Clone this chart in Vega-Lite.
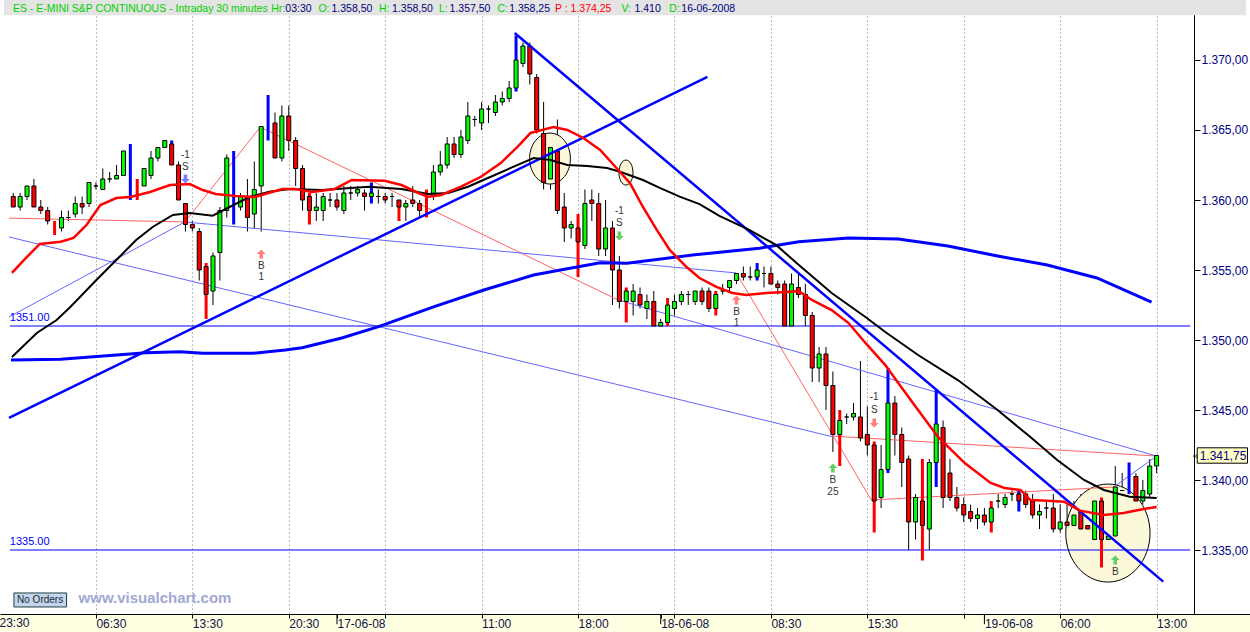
{
"$schema": "https://vega.github.io/schema/vega-lite/v6.json",
"width": 1250, "height": 614,
"autosize": {"type": "none"},
"padding": {"left": 0, "top": 0, "right": 0, "bottom": 18},
"background": "#FFFFE1",
"config": {
 "view": {"fill": "#FFFFFF", "stroke": null},
 "locale": {"number": {"decimal": ",", "thousands": ".", "grouping": [3], "currency": ["", ""]}},
 "bar": {"continuousBandSize": 4},
 "text": {"font": "Liberation Sans"}
},
"resolve": {"scale": {"color": "independent"}},
"datasets": {
 "candles": [
{"bar":2,"open":1360.25,"high":1360.5,"low":1359.5,"close":1359.5,"paint":""},
{"bar":3,"open":1359.5,"high":1360.5,"low":1359.25,"close":1360.25,"paint":""},
{"bar":4,"open":1360.25,"high":1361,"low":1360,"close":1361,"paint":""},
{"bar":5,"open":1361,"high":1361.5,"low":1359.5,"close":1359.5,"paint":""},
{"bar":6,"open":1359.5,"high":1360,"low":1359,"close":1359.25,"paint":""},
{"bar":7,"open":1359.25,"high":1359.5,"low":1358.25,"close":1358.5,"paint":""},
{"bar":8,"open":1358.25,"high":1358.5,"low":1357.5,"close":1358.25,"paint":"r"},
{"bar":9,"open":1358,"high":1359.25,"low":1357.75,"close":1358.75,"paint":""},
{"bar":10,"open":1358.75,"high":1359.25,"low":1358.5,"close":1358.75,"paint":""},
{"bar":11,"open":1359,"high":1360.25,"low":1358.75,"close":1359.75,"paint":""},
{"bar":12,"open":1359.75,"high":1360.25,"low":1359,"close":1359.5,"paint":""},
{"bar":13,"open":1359.75,"high":1361.25,"low":1359.5,"close":1361.25,"paint":""},
{"bar":14,"open":1361,"high":1361.25,"low":1360.75,"close":1361,"paint":""},
{"bar":15,"open":1360.75,"high":1362.25,"low":1360.75,"close":1361.5,"paint":""},
{"bar":16,"open":1361.5,"high":1362,"low":1361.25,"close":1361.5,"paint":""},
{"bar":17,"open":1361.5,"high":1362.5,"low":1361.5,"close":1361.75,"paint":""},
{"bar":18,"open":1361.75,"high":1363.5,"low":1361.75,"close":1363.5,"paint":""},
{"bar":19,"open":1363.75,"high":1364,"low":1360,"close":1363.75,"paint":"b"},
{"bar":20,"open":1361.25,"high":1361.5,"low":1360,"close":1361.25,"paint":"r"},
{"bar":21,"open":1361,"high":1362.25,"low":1361,"close":1362.25,"paint":""},
{"bar":22,"open":1361.75,"high":1363.5,"low":1361.5,"close":1363,"paint":""},
{"bar":23,"open":1363,"high":1363.75,"low":1362.75,"close":1363.75,"paint":""},
{"bar":24,"open":1363.75,"high":1364.25,"low":1363.75,"close":1364.25,"paint":""},
{"bar":25,"open":1364,"high":1364.25,"low":1362.5,"close":1362.5,"paint":"b"},
{"bar":26,"open":1362.5,"high":1362.75,"low":1360,"close":1360,"paint":""},
{"bar":27,"open":1359.75,"high":1359.75,"low":1357.75,"close":1358.25,"paint":""},
{"bar":28,"open":1358.25,"high":1358.5,"low":1357.75,"close":1358,"paint":""},
{"bar":29,"open":1357.75,"high":1358,"low":1354.25,"close":1355,"paint":""},
{"bar":30,"open":1355.25,"high":1355.5,"low":1351.5,"close":1353.25,"paint":"r"},
{"bar":31,"open":1353.5,"high":1356.25,"low":1352.5,"close":1356,"paint":""},
{"bar":32,"open":1356.25,"high":1359.5,"low":1354.25,"close":1359.25,"paint":""},
{"bar":33,"open":1359.25,"high":1363.25,"low":1358.75,"close":1363,"paint":""},
{"bar":34,"open":1360,"high":1363.5,"low":1358.25,"close":1360,"paint":"b"},
{"bar":35,"open":1359.5,"high":1360.5,"low":1359.25,"close":1360.25,"paint":""},
{"bar":36,"open":1360.25,"high":1361.5,"low":1357.75,"close":1358.75,"paint":""},
{"bar":37,"open":1359,"high":1362.75,"low":1358,"close":1360.75,"paint":""},
{"bar":38,"open":1361,"high":1365.25,"low":1357.75,"close":1365.25,"paint":""},
{"bar":39,"open":1365,"high":1367.5,"low":1364.25,"close":1365,"paint":"b"},
{"bar":40,"open":1365.5,"high":1366.25,"low":1363,"close":1363,"paint":""},
{"bar":41,"open":1363,"high":1366.75,"low":1362.75,"close":1366,"paint":""},
{"bar":42,"open":1366,"high":1366.75,"low":1363.5,"close":1364.25,"paint":""},
{"bar":43,"open":1364.25,"high":1364.5,"low":1361,"close":1362.25,"paint":""},
{"bar":44,"open":1362.25,"high":1362.5,"low":1359.25,"close":1360,"paint":""},
{"bar":45,"open":1360.25,"high":1360.5,"low":1358.25,"close":1359.25,"paint":"r"},
{"bar":46,"open":1359.25,"high":1360.5,"low":1358.5,"close":1359.5,"paint":""},
{"bar":47,"open":1359.25,"high":1360.5,"low":1358.5,"close":1360.25,"paint":""},
{"bar":48,"open":1360,"high":1360.5,"low":1359.5,"close":1360,"paint":""},
{"bar":49,"open":1360,"high":1360.5,"low":1359.25,"close":1359.5,"paint":""},
{"bar":50,"open":1359.25,"high":1361,"low":1359,"close":1360.5,"paint":""},
{"bar":51,"open":1360.5,"high":1361,"low":1360,"close":1360.5,"paint":""},
{"bar":52,"open":1360.5,"high":1361,"low":1360.25,"close":1360.75,"paint":""},
{"bar":53,"open":1360.5,"high":1360.75,"low":1359.25,"close":1360.25,"paint":""},
{"bar":54,"open":1360.25,"high":1361.25,"low":1359.75,"close":1360.5,"paint":"b"},
{"bar":55,"open":1360.25,"high":1360.75,"low":1359.75,"close":1360.25,"paint":""},
{"bar":56,"open":1360.25,"high":1360.5,"low":1359.75,"close":1360,"paint":""},
{"bar":57,"open":1360.25,"high":1360.5,"low":1359.5,"close":1360.25,"paint":""},
{"bar":58,"open":1360,"high":1360,"low":1358.5,"close":1359.5,"paint":"r"},
{"bar":59,"open":1359.5,"high":1360,"low":1358.5,"close":1359.75,"paint":""},
{"bar":60,"open":1360,"high":1361,"low":1359.5,"close":1359.75,"paint":""},
{"bar":61,"open":1359.75,"high":1360,"low":1358.75,"close":1359.25,"paint":""},
{"bar":62,"open":1359.5,"high":1360.75,"low":1358.75,"close":1359.5,"paint":"r"},
{"bar":63,"open":1360.25,"high":1362.5,"low":1360,"close":1362,"paint":""},
{"bar":64,"open":1362,"high":1363.5,"low":1361.75,"close":1362.5,"paint":""},
{"bar":65,"open":1362.5,"high":1364.5,"low":1362.25,"close":1364,"paint":""},
{"bar":66,"open":1364,"high":1364.5,"low":1363,"close":1363.25,"paint":""},
{"bar":67,"open":1363.25,"high":1365,"low":1363,"close":1364.5,"paint":""},
{"bar":68,"open":1364.25,"high":1367,"low":1364,"close":1366,"paint":""},
{"bar":69,"open":1365.75,"high":1366,"low":1365.25,"close":1365.75,"paint":""},
{"bar":70,"open":1365.5,"high":1367,"low":1365,"close":1366.5,"paint":""},
{"bar":71,"open":1366.5,"high":1366.75,"low":1365.5,"close":1366.5,"paint":""},
{"bar":72,"open":1366.25,"high":1367.5,"low":1366,"close":1367,"paint":""},
{"bar":73,"open":1367,"high":1367.75,"low":1366.75,"close":1367.25,"paint":""},
{"bar":74,"open":1367.25,"high":1368.5,"low":1367,"close":1368,"paint":""},
{"bar":75,"open":1368,"high":1371.75,"low":1367.75,"close":1370,"paint":"b"},
{"bar":76,"open":1369.75,"high":1371.25,"low":1369.5,"close":1371,"paint":""},
{"bar":77,"open":1371,"high":1371.25,"low":1368.25,"close":1369,"paint":""},
{"bar":78,"open":1368.75,"high":1369,"low":1364.75,"close":1365,"paint":""},
{"bar":79,"open":1364.75,"high":1367,"low":1360.75,"close":1361.25,"paint":""},
{"bar":80,"open":1361.5,"high":1364.5,"low":1360.75,"close":1363.75,"paint":""},
{"bar":81,"open":1363.5,"high":1365.75,"low":1359,"close":1359.25,"paint":""},
{"bar":82,"open":1359.5,"high":1360.5,"low":1357,"close":1358,"paint":""},
{"bar":83,"open":1358,"high":1358.5,"low":1357.25,"close":1358.25,"paint":""},
{"bar":84,"open":1358,"high":1359,"low":1354.5,"close":1357,"paint":"r"},
{"bar":85,"open":1356.75,"high":1360.75,"low":1356.5,"close":1359.75,"paint":""},
{"bar":86,"open":1360,"high":1360.75,"low":1358.5,"close":1359.75,"paint":""},
{"bar":87,"open":1359.75,"high":1360.5,"low":1356,"close":1356.5,"paint":""},
{"bar":88,"open":1356.5,"high":1360,"low":1356,"close":1358,"paint":""},
{"bar":89,"open":1358,"high":1358.5,"low":1352.5,"close":1355,"paint":""},
{"bar":90,"open":1355,"high":1356,"low":1352.25,"close":1352.75,"paint":""},
{"bar":91,"open":1352.75,"high":1353.75,"low":1351.25,"close":1353.5,"paint":"r"},
{"bar":92,"open":1352.75,"high":1354,"low":1351.75,"close":1353.5,"paint":""},
{"bar":93,"open":1353.25,"high":1353.75,"low":1352.25,"close":1352.5,"paint":""},
{"bar":94,"open":1352.25,"high":1353.25,"low":1351.5,"close":1352.75,"paint":""},
{"bar":95,"open":1352.75,"high":1353.5,"low":1351,"close":1351,"paint":""},
{"bar":96,"open":1351,"high":1351.5,"low":1351,"close":1351.25,"paint":""},
{"bar":97,"open":1351.25,"high":1353,"low":1351,"close":1352.5,"paint":"r"},
{"bar":98,"open":1352.25,"high":1353.25,"low":1351.75,"close":1352.75,"paint":""},
{"bar":99,"open":1352.75,"high":1353.5,"low":1352.5,"close":1353.25,"paint":""},
{"bar":100,"open":1353.25,"high":1353.5,"low":1352.5,"close":1353.25,"paint":""},
{"bar":101,"open":1352.75,"high":1353.5,"low":1352.5,"close":1353.5,"paint":""},
{"bar":102,"open":1353.5,"high":1353.75,"low":1352.5,"close":1352.75,"paint":""},
{"bar":103,"open":1353.5,"high":1353.75,"low":1352,"close":1352.25,"paint":""},
{"bar":104,"open":1352.25,"high":1353.5,"low":1351.75,"close":1353.25,"paint":"r"},
{"bar":105,"open":1353.5,"high":1354,"low":1353.25,"close":1353.5,"paint":""},
{"bar":106,"open":1353.75,"high":1354.25,"low":1353.5,"close":1354.25,"paint":""},
{"bar":107,"open":1354.25,"high":1354.75,"low":1354,"close":1354.75,"paint":""},
{"bar":108,"open":1354.75,"high":1355.25,"low":1354.25,"close":1354.5,"paint":""},
{"bar":109,"open":1354.5,"high":1355.25,"low":1354.25,"close":1354.5,"paint":""},
{"bar":110,"open":1354.5,"high":1355.5,"low":1354.25,"close":1355,"paint":"b"},
{"bar":111,"open":1354.75,"high":1355.25,"low":1353.75,"close":1354.75,"paint":""},
{"bar":112,"open":1354.75,"high":1355.25,"low":1354,"close":1354,"paint":""},
{"bar":113,"open":1354,"high":1354.25,"low":1353.25,"close":1353.75,"paint":""},
{"bar":114,"open":1354,"high":1354.25,"low":1351,"close":1351,"paint":""},
{"bar":115,"open":1351,"high":1354.75,"low":1351,"close":1354,"paint":""},
{"bar":116,"open":1353.75,"high":1354.75,"low":1353,"close":1353.25,"paint":""},
{"bar":117,"open":1353.25,"high":1354,"low":1351,"close":1351.75,"paint":""},
{"bar":118,"open":1351.75,"high":1352,"low":1347,"close":1348,"paint":""},
{"bar":119,"open":1348,"high":1349.5,"low":1347,"close":1349,"paint":""},
{"bar":120,"open":1349,"high":1349.5,"low":1345,"close":1346.75,"paint":""},
{"bar":121,"open":1346.75,"high":1347.75,"low":1342,"close":1343.25,"paint":""},
{"bar":122,"open":1343.25,"high":1345,"low":1341,"close":1344.25,"paint":"r"},
{"bar":123,"open":1344.5,"high":1344.75,"low":1344,"close":1344.5,"paint":""},
{"bar":124,"open":1344.5,"high":1345.5,"low":1344.25,"close":1344.75,"paint":""},
{"bar":125,"open":1344.5,"high":1348.5,"low":1342.75,"close":1343,"paint":""},
{"bar":126,"open":1343.25,"high":1345.25,"low":1341.75,"close":1342.5,"paint":""},
{"bar":127,"open":1342.5,"high":1342.75,"low":1336.25,"close":1338.5,"paint":"r"},
{"bar":128,"open":1338.75,"high":1342.5,"low":1338,"close":1340.75,"paint":""},
{"bar":129,"open":1340.75,"high":1348,"low":1340.5,"close":1345.5,"paint":"b"},
{"bar":130,"open":1345.5,"high":1346,"low":1341.75,"close":1343.25,"paint":""},
{"bar":131,"open":1343.25,"high":1343.75,"low":1339.5,"close":1341.25,"paint":""},
{"bar":132,"open":1341.5,"high":1341.75,"low":1335,"close":1337,"paint":""},
{"bar":133,"open":1337,"high":1339,"low":1335.75,"close":1338.75,"paint":""},
{"bar":134,"open":1338.5,"high":1341.5,"low":1334.25,"close":1336.75,"paint":"r"},
{"bar":135,"open":1336.5,"high":1341.5,"low":1335,"close":1341.25,"paint":""},
{"bar":136,"open":1341.25,"high":1346.5,"low":1339.5,"close":1344,"paint":"b"},
{"bar":137,"open":1343.75,"high":1344.25,"low":1338,"close":1338.75,"paint":""},
{"bar":138,"open":1340.5,"high":1341.5,"low":1338.5,"close":1338.75,"paint":""},
{"bar":139,"open":1338.75,"high":1339.5,"low":1337.75,"close":1338,"paint":""},
{"bar":140,"open":1338.25,"high":1338.75,"low":1337,"close":1337.5,"paint":""},
{"bar":141,"open":1337.75,"high":1338.25,"low":1337,"close":1337.25,"paint":""},
{"bar":142,"open":1337.25,"high":1338,"low":1336.5,"close":1337.5,"paint":""},
{"bar":143,"open":1337.5,"high":1338,"low":1336.75,"close":1337,"paint":""},
{"bar":144,"open":1337,"high":1338.5,"low":1336.25,"close":1338,"paint":"r"},
{"bar":145,"open":1338.5,"high":1339,"low":1338,"close":1338.5,"paint":""},
{"bar":146,"open":1338.25,"high":1339,"low":1338,"close":1338.75,"paint":""},
{"bar":147,"open":1339,"high":1339.25,"low":1338.5,"close":1339,"paint":""},
{"bar":148,"open":1339,"high":1339.25,"low":1337.75,"close":1338.5,"paint":"b"},
{"bar":149,"open":1339,"high":1339.25,"low":1338,"close":1338.25,"paint":""},
{"bar":150,"open":1338.5,"high":1339,"low":1337.25,"close":1337.5,"paint":""},
{"bar":151,"open":1337.5,"high":1338.25,"low":1336.5,"close":1337.75,"paint":""},
{"bar":152,"open":1338,"high":1338.5,"low":1337.25,"close":1338,"paint":""},
{"bar":153,"open":1338,"high":1339,"low":1336.25,"close":1336.5,"paint":""},
{"bar":154,"open":1336.5,"high":1338.25,"low":1336.25,"close":1337,"paint":""},
{"bar":155,"open":1337,"high":1338.25,"low":1336,"close":1336.75,"paint":""},
{"bar":156,"open":1336.75,"high":1338.5,"low":1336,"close":1337.5,"paint":""},
{"bar":157,"open":1337.75,"high":1339,"low":1335,"close":1336.5,"paint":""},
{"bar":158,"open":1336.75,"high":1338,"low":1335,"close":1336.5,"paint":""},
{"bar":159,"open":1335.75,"high":1339.5,"low":1335,"close":1338.5,"paint":""},
{"bar":160,"open":1338.5,"high":1338.75,"low":1333.75,"close":1335.75,"paint":"r"},
{"bar":161,"open":1335.75,"high":1336.5,"low":1335.25,"close":1336,"paint":""},
{"bar":162,"open":1336,"high":1341,"low":1335.75,"close":1339.5,"paint":""},
{"bar":163,"open":1339.25,"high":1340.5,"low":1338.75,"close":1339.25,"paint":""},
{"bar":164,"open":1340,"high":1341.25,"low":1339,"close":1340,"paint":"b"},
{"bar":165,"open":1340.25,"high":1340.5,"low":1338.25,"close":1338.5,"paint":""},
{"bar":166,"open":1338.5,"high":1340,"low":1338.25,"close":1339.25,"paint":""},
{"bar":167,"open":1339,"high":1341.5,"low":1338.75,"close":1341,"paint":""},
{"bar":168,"open":1341,"high":1341.75,"low":1340.5,"close":1341.75,"paint":""}
 ],
 "ma": [
{"ma":"red","bar":1.81,"price":1354.79},{"ma":"red","bar":3.54,"price":1355.71},{"ma":"red","bar":5.85,"price":1356.86},{"ma":"red","bar":8.88,"price":1357.02},{"ma":"red","bar":10.76,"price":1357.29},{"ma":"red","bar":12.63,"price":1358.21},{"ma":"red","bar":14.65,"price":1359.64},{"ma":"red","bar":16.96,"price":1360.14},{"ma":"red","bar":18.98,"price":1360.21},{"ma":"red","bar":21.86,"price":1360.57},{"ma":"red","bar":24.75,"price":1361.07},{"ma":"red","bar":27.63,"price":1361.14},{"ma":"red","bar":29.51,"price":1360.71},{"ma":"red","bar":31.38,"price":1360.43},{"ma":"red","bar":34.27,"price":1360.29},{"ma":"red","bar":37.15,"price":1360.21},{"ma":"red","bar":39.17,"price":1360.52},{"ma":"red","bar":41.05,"price":1360.79},{"ma":"red","bar":42.92,"price":1360.79},{"ma":"red","bar":45.38,"price":1360.57},{"ma":"red","bar":48.69,"price":1360.79},{"ma":"red","bar":51.15,"price":1361.43},{"ma":"red","bar":55.91,"price":1361.38},{"ma":"red","bar":58.36,"price":1361.07},{"ma":"red","bar":60.81,"price":1360.5},{"ma":"red","bar":62.25,"price":1360.24},{"ma":"red","bar":64.13,"price":1360.36},{"ma":"red","bar":67.01,"price":1360.95},{"ma":"red","bar":69.9,"price":1361.66},{"ma":"red","bar":72.78,"price":1362.64},{"ma":"red","bar":75.24,"price":1363.81},{"ma":"red","bar":77.11,"price":1364.79},{"ma":"red","bar":80.43,"price":1365.21},{"ma":"red","bar":82.45,"price":1365.0},{"ma":"red","bar":84.76,"price":1364.43},{"ma":"red","bar":87.21,"price":1363.57},{"ma":"red","bar":90.1,"price":1362.0},{"ma":"red","bar":91.54,"price":1361.21},{"ma":"red","bar":93.42,"price":1359.5},{"ma":"red","bar":95.43,"price":1357.86},{"ma":"red","bar":97.31,"price":1356.43},{"ma":"red","bar":99.76,"price":1355.21},{"ma":"red","bar":101.64,"price":1354.43},{"ma":"red","bar":104.09,"price":1353.79},{"ma":"red","bar":106.4,"price":1353.36},{"ma":"red","bar":108.42,"price":1353.21},{"ma":"red","bar":111.3,"price":1353.36},{"ma":"red","bar":114.19,"price":1353.43},{"ma":"red","bar":116.06,"price":1353.5},{"ma":"red","bar":117.94,"price":1352.86},{"ma":"red","bar":120.82,"price":1352.14},{"ma":"red","bar":123.28,"price":1351.21},{"ma":"red","bar":125.73,"price":1349.79},{"ma":"red","bar":128.61,"price":1348.21},{"ma":"red","bar":130.49,"price":1346.93},{"ma":"red","bar":133.37,"price":1345.0},{"ma":"red","bar":136.26,"price":1343.07},{"ma":"red","bar":140.15,"price":1341.21},{"ma":"red","bar":143.9,"price":1339.79},{"ma":"red","bar":145.92,"price":1339.43},{"ma":"red","bar":148.23,"price":1339.29},{"ma":"red","bar":149.67,"price":1338.57},{"ma":"red","bar":152.12,"price":1338.52},{"ma":"red","bar":154.57,"price":1338.45},{"ma":"red","bar":156.88,"price":1337.81},{"ma":"red","bar":160.34,"price":1337.5},{"ma":"red","bar":163.23,"price":1337.64},{"ma":"red","bar":166.11,"price":1337.93},{"ma":"red","bar":168.0,"price":1338.07},
{"ma":"black","bar":1.81,"price":1348.79},{"ma":"black","bar":5.42,"price":1350.5},{"ma":"black","bar":8.3,"price":1351.43},{"ma":"black","bar":10.32,"price":1352.38},{"ma":"black","bar":14.07,"price":1354.29},{"ma":"black","bar":16.96,"price":1355.71},{"ma":"black","bar":19.84,"price":1357.14},{"ma":"black","bar":22.29,"price":1358.09},{"ma":"black","bar":25.18,"price":1358.93},{"ma":"black","bar":27.63,"price":1359.07},{"ma":"black","bar":30.95,"price":1358.88},{"ma":"black","bar":33.4,"price":1359.5},{"ma":"black","bar":36.29,"price":1360.21},{"ma":"black","bar":39.17,"price":1360.59},{"ma":"black","bar":42.06,"price":1360.79},{"ma":"black","bar":46.82,"price":1360.71},{"ma":"black","bar":53.6,"price":1360.95},{"ma":"black","bar":58.36,"price":1360.79},{"ma":"black","bar":62.25,"price":1360.43},{"ma":"black","bar":65.14,"price":1360.5},{"ma":"black","bar":68.02,"price":1360.95},{"ma":"black","bar":70.91,"price":1361.57},{"ma":"black","bar":74.66,"price":1362.38},{"ma":"black","bar":77.55,"price":1363.0},{"ma":"black","bar":80.0,"price":1362.86},{"ma":"black","bar":82.45,"price":1362.5},{"ma":"black","bar":85.34,"price":1362.43},{"ma":"black","bar":88.22,"price":1362.29},{"ma":"black","bar":90.1,"price":1362.02},{"ma":"black","bar":93.42,"price":1361.43},{"ma":"black","bar":95.87,"price":1360.86},{"ma":"black","bar":98.75,"price":1360.24},{"ma":"black","bar":101.64,"price":1359.71},{"ma":"black","bar":104.52,"price":1358.86},{"ma":"black","bar":108.85,"price":1357.86},{"ma":"black","bar":112.74,"price":1356.79},{"ma":"black","bar":116.06,"price":1355.36},{"ma":"black","bar":120.82,"price":1353.36},{"ma":"black","bar":125.73,"price":1351.64},{"ma":"black","bar":128.61,"price":1350.57},{"ma":"black","bar":133.37,"price":1348.93},{"ma":"black","bar":139.14,"price":1347.14},{"ma":"black","bar":144.91,"price":1345.0},{"ma":"black","bar":149.67,"price":1343.07},{"ma":"black","bar":153.57,"price":1341.43},{"ma":"black","bar":157.46,"price":1340.0},{"ma":"black","bar":160.34,"price":1339.29},{"ma":"black","bar":164.1,"price":1338.81},{"ma":"black","bar":168.0,"price":1338.71},
{"ma":"blue","bar":1.67,"price":1348.57},{"ma":"blue","bar":8.88,"price":1348.62},{"ma":"blue","bar":15.08,"price":1348.86},{"ma":"blue","bar":21.28,"price":1349.09},{"ma":"blue","bar":26.19,"price":1349.16},{"ma":"blue","bar":29.51,"price":1349.05},{"ma":"blue","bar":36.72,"price":1349.05},{"ma":"blue","bar":41.48,"price":1349.29},{"ma":"blue","bar":43.93,"price":1349.45},{"ma":"blue","bar":49.7,"price":1350.14},{"ma":"blue","bar":55.04,"price":1350.95},{"ma":"blue","bar":63.12,"price":1352.38},{"ma":"blue","bar":70.33,"price":1353.57},{"ma":"blue","bar":77.55,"price":1354.64},{"ma":"blue","bar":81.44,"price":1355.0},{"ma":"blue","bar":87.21,"price":1355.52},{"ma":"blue","bar":91.1,"price":1355.48},{"ma":"blue","bar":100.63,"price":1356.07},{"ma":"blue","bar":110.32,"price":1356.55},{"ma":"blue","bar":116.06,"price":1357.02},{"ma":"blue","bar":123.28,"price":1357.29},{"ma":"blue","bar":130.49,"price":1357.21},{"ma":"blue","bar":137.7,"price":1356.71},{"ma":"blue","bar":144.91,"price":1356.0},{"ma":"blue","bar":152.12,"price":1355.36},{"ma":"blue","bar":159.34,"price":1354.43},{"ma":"blue","bar":167.27,"price":1352.71}
 ],
 "thin": [
{"seg":"r1","tone":"red","bar":1.38,"price":1358.71},{"seg":"r1","tone":"red","bar":26.91,"price":1358.43},
{"seg":"r2","tone":"red","bar":26.91,"price":1358.43},{"seg":"r2","tone":"red","bar":37.87,"price":1365.21},
{"seg":"r3","tone":"red","bar":37.87,"price":1365.21},{"seg":"r3","tone":"red","bar":89.81,"price":1352.86},
{"seg":"r5","tone":"red","bar":106.97,"price":1354.79},{"seg":"r5","tone":"red","bar":126.59,"price":1338.57},
{"seg":"r6","tone":"red","bar":120.82,"price":1343.14},{"seg":"r6","tone":"red","bar":168.0,"price":1341.71},
{"seg":"r7","tone":"red","bar":126.59,"price":1338.57},{"seg":"r7","tone":"red","bar":161.79,"price":1339.5},
{"seg":"b1","tone":"blue","bar":1.38,"price":1357.36},{"seg":"b1","tone":"blue","bar":121.11,"price":1343.07},
{"seg":"b2","tone":"blue","bar":1.38,"price":1351.64},{"seg":"b2","tone":"blue","bar":26.91,"price":1358.43},
{"seg":"b3","tone":"blue","bar":26.91,"price":1358.43},{"seg":"b3","tone":"blue","bar":106.97,"price":1354.79},
{"seg":"b4","tone":"blue","bar":89.81,"price":1352.86},{"seg":"b4","tone":"blue","bar":168.0,"price":1341.71},
{"seg":"b5","tone":"blue","bar":161.79,"price":1339.5},{"seg":"b5","tone":"blue","bar":168.0,"price":1341.71}
 ],
 "trend": [
{"seg":"t1","bar":1.38,"price":1344.43},{"seg":"t1","bar":102.79,"price":1368.79},
{"seg":"t2","bar":74.8,"price":1371.93},{"seg":"t2","bar":168.96,"price":1332.74}
 ],
 "ellipses": [
{"name":"e1","bar":79.93,"price":1362.96},
{"name":"e2","bar":90.96,"price":1361.96},
{"name":"e3","bar":160.93,"price":1336.21}
 ],
 "arrows": [
{"bar":27,"price":1361.5,"dir":"down","tone":"blue"},
{"bar":38,"price":1356.14,"dir":"up","tone":"red"},
{"bar":90,"price":1357.43,"dir":"down","tone":"green"},
{"bar":107,"price":1352.86,"dir":"up","tone":"red"},
{"bar":121,"price":1340.86,"dir":"up","tone":"green"},
{"bar":127,"price":1344.07,"dir":"down","tone":"red"},
{"bar":162,"price":1334.29,"dir":"up","tone":"green"}
 ],
 "signaltext": [
{"bar":27,"price":1363.21,"text":"-1"},{"bar":27,"price":1362.36,"text":"S"},
{"bar":38,"price":1355.29,"text":"B"},{"bar":38,"price":1354.5,"text":"1"},
{"bar":90,"price":1359.21,"text":"-1"},{"bar":90,"price":1358.36,"text":"S"},
{"bar":107,"price":1352.0,"text":"B"},{"bar":107,"price":1351.21,"text":"1"},
{"bar":121,"price":1340.0,"text":"B"},{"bar":121,"price":1339.14,"text":"25"},
{"bar":127,"price":1345.93,"text":"-1"},{"bar":127,"price":1345.0,"text":"S"},
{"bar":162,"price":1333.43,"text":"B"}
 ],
 "header": [
{"at":1.95,"text":"ES - E-MINI S&P CONTINUOUS - Intraday 30 minutes","kind":"label"},
{"at":39.45,"text":"Hr:","kind":"label"},
{"at":41.5,"text":"03:30","kind":"value"},
{"at":46.3,"text":"O:","kind":"label"},
{"at":48.2,"text":"1.358,50","kind":"value"},
{"at":55.1,"text":"H:","kind":"label"},
{"at":57.0,"text":"1.358,50","kind":"value"},
{"at":63.8,"text":"L:","kind":"label"},
{"at":65.35,"text":"1.357,50","kind":"value"},
{"at":72.3,"text":"C:","kind":"label"},
{"at":74.0,"text":"1.358,25","kind":"value"},
{"at":80.65,"text":"P : 1.374,25","kind":"price"},
{"at":90.3,"text":"V:","kind":"label"},
{"at":92.2,"text":"1.410","kind":"value"},
{"at":97.25,"text":"D:","kind":"label"},
{"at":99.0,"text":"16-06-2008","kind":"value"}
 ],
 "days": [
{"bar":49,"day":"17-06-08"},{"bar":96,"day":"18-06-08"},{"bar":143,"day":"19-06-08"}
 ]
},
"layer": [
 {"data": {"name": "candles"}, "transform": [{"filter": "datum.paint == ''"}],
  "mark": {"type": "rule", "color": "#000000", "strokeWidth": 1},
  "encoding": {
   "x": {"field": "bar", "type": "quantitative", "scale": {"domain": [0.656, 180.98], "nice": false, "zero": false},
    "axis": {"values": [0,14,28,42,49,56,70,84,96,98,112,126,140,143,154,168], "orient": "bottom", "title": null, "zindex": 0,
     "grid": true, "gridColor": "#7A7A7A", "gridDash": [1, 3], "gridWidth": 1,
     "gridOpacity": {"condition": {"test": "datum.value % 14 === 0", "value": 1}, "value": 0},
     "domain": true, "domainColor": "#000000", "domainWidth": 1, "ticks": true, "tickColor": "#000000", "tickSize": 4,
     "labels": true, "labelAlign": "left", "labelBaseline": "top", "labelPadding": 0, "labelFontSize": 12, "labelFont": "Liberation Sans", "labelColor": "#10104A",
     "labelOverlap": false, "labelBound": false, "labelFlush": false,
     "labelExpr": "datum.value==0?'23:30':datum.value==14?'06:30':datum.value==28?'13:30':datum.value==42?'20:30':datum.value==49?'17-06-08':datum.value==70?'11:00':datum.value==84?'18:00':datum.value==96?'18-06-08':datum.value==112?'08:30':datum.value==126?'15:30':datum.value==143?'19-06-08':datum.value==154?'06:00':datum.value==168?'13:00':''"}},
   "y": {"field": "low", "type": "quantitative", "scale": {"domain": [1330.4286, 1374.2857], "nice": false, "zero": false},
    "axis": {"orient": "right", "offset": -56, "values": [1335,1340,1345,1350,1355,1360,1365,1370], "format": ",.2f", "title": null, "zindex": 0, "grid": false,
     "domain": true, "domainColor": "#000000", "domainWidth": 1, "ticks": true, "tickColor": "#000000", "tickSize": 6, "labelPadding": 1,
     "labels": true, "labelFontSize": 12, "labelFont": "Liberation Sans", "labelColor": "#000080"}},
   "y2": {"field": "high"}}},
 {"data": {"values": [{}]}, "mark": {"type": "rect", "fill": "#E4E4E4"},
  "encoding": {"x": {"datum": 0.656, "type": "quantitative"},
   "x2": {"datum": 180.98},
   "y": {"datum": 1373.2, "type": "quantitative"},
   "y2": {"datum": 1374.2857}}},
 {"data": {"name": "days"}, "mark": {"type": "rule", "color": "#000000", "strokeWidth": 1},
  "encoding": {"x": {"field": "bar", "type": "quantitative"}, "y": {"datum": 1330.4286, "type": "quantitative"}, "y2": {"datum": 1329.7}}},
 {"data": {"values": [{"text": "23:30"}]}, "mark": {"type": "text", "align": "left", "baseline": "top", "fontSize": 12, "color": "#10104A", "dy": 4},
  "encoding": {"x": {"datum": 0, "type": "quantitative"}, "y": {"datum": 1330.4286, "type": "quantitative"}, "text": {"field": "text"}}},
 {"data": {"name": "ellipses"}, "transform": [{"filter": "datum.name == 'e1'"}],
  "mark": {"type": "point", "shape": "M-0.8,0A0.8,1,0,1,1,0.8,0A0.8,1,0,1,1,-0.8,0Z", "size": 2601, "filled": true, "fill": "#FBF8DA", "stroke": "#000000", "strokeWidth": 1, "opacity": 1},
  "encoding": {"x": {"field": "bar", "type": "quantitative"}, "y": {"field": "price", "type": "quantitative"}}},
 {"data": {"name": "ellipses"}, "transform": [{"filter": "datum.name == 'e2'"}],
  "mark": {"type": "point", "shape": "M-0.56,0A0.56,1,0,1,1,0.56,0A0.56,1,0,1,1,-0.56,0Z", "size": 625, "filled": true, "fill": "#FBF8DA", "stroke": "#000000", "strokeWidth": 1, "opacity": 1},
  "encoding": {"x": {"field": "bar", "type": "quantitative"}, "y": {"field": "price", "type": "quantitative"}}},
 {"data": {"name": "ellipses"}, "transform": [{"filter": "datum.name == 'e3'"}],
  "mark": {"type": "point", "shape": "M-0.86,0A0.86,1,0,1,1,0.86,0A0.86,1,0,1,1,-0.86,0Z", "size": 9604, "filled": true, "fill": "#FBF8DA", "stroke": "#000000", "strokeWidth": 1, "opacity": 1},
  "encoding": {"x": {"field": "bar", "type": "quantitative"}, "y": {"field": "price", "type": "quantitative"}}},
 {"data": {"name": "thin"}, "mark": {"type": "line", "strokeWidth": 1},
  "encoding": {"x": {"field": "bar", "type": "quantitative"}, "y": {"field": "price", "type": "quantitative"},
   "detail": {"field": "seg"},
   "color": {"field": "tone", "type": "nominal", "scale": {"domain": ["red", "blue"], "range": ["#FF6464", "#6464FF"]}, "legend": null}}},
 {"data": {"values": [{"level": 1351}, {"level": 1335}]}, "mark": {"type": "rule", "color": "#0000FF", "strokeWidth": 1},
  "encoding": {"y": {"field": "level", "type": "quantitative"}, "x": {"datum": 1.5, "type": "quantitative"}, "x2": {"datum": 172.9}}},
 {"data": {"values": [{"level": 1351, "text": "1351.00"}, {"level": 1335, "text": "1335.00"}]},
  "mark": {"type": "text", "align": "left", "baseline": "bottom", "dy": -3, "fontSize": 11, "color": "#0000FF"},
  "encoding": {"y": {"field": "level", "type": "quantitative"}, "x": {"datum": 1.5, "type": "quantitative"}, "text": {"field": "text"}}},
 {"data": {"name": "candles"}, "transform": [{"filter": "datum.paint != ''"}],
  "mark": {"type": "rule", "strokeWidth": 3},
  "encoding": {"x": {"field": "bar", "type": "quantitative"}, "y": {"field": "low", "type": "quantitative"}, "y2": {"field": "high"},
   "color": {"field": "paint", "type": "nominal", "scale": {"domain": ["b", "r"], "range": ["#0000FF", "#FF0000"]}, "legend": null}}},
 {"data": {"name": "candles"}, "transform": [{"filter": "datum.paint == '' || datum.open != datum.close"}],
  "mark": {"type": "bar", "stroke": "#000000", "strokeWidth": 1},
  "encoding": {"x": {"field": "bar", "type": "quantitative"}, "y": {"field": "open", "type": "quantitative"}, "y2": {"field": "close"},
   "fill": {"condition": {"test": "datum.close >= datum.open", "value": "#00FF00"}, "value": "#FF0000"}}},
 {"data": {"name": "ma"}, "transform": [{"filter": "datum.ma == 'blue'"}],
  "mark": {"type": "line", "color": "#0000FF", "strokeWidth": 3},
  "encoding": {"x": {"field": "bar", "type": "quantitative"}, "y": {"field": "price", "type": "quantitative"}}},
 {"data": {"name": "trend"}, "mark": {"type": "line", "color": "#0000FF", "strokeWidth": 2.5},
  "encoding": {"x": {"field": "bar", "type": "quantitative"}, "y": {"field": "price", "type": "quantitative"}, "detail": {"field": "seg"}}},
 {"data": {"name": "ma"}, "transform": [{"filter": "datum.ma == 'black'"}],
  "mark": {"type": "line", "color": "#000000", "strokeWidth": 2},
  "encoding": {"x": {"field": "bar", "type": "quantitative"}, "y": {"field": "price", "type": "quantitative"}}},
 {"data": {"name": "ma"}, "transform": [{"filter": "datum.ma == 'red'"}],
  "mark": {"type": "line", "color": "#FF0000", "strokeWidth": 2.5},
  "encoding": {"x": {"field": "bar", "type": "quantitative"}, "y": {"field": "price", "type": "quantitative"}}},
 {"data": {"name": "arrows"}, "transform": [{"filter": "datum.dir == 'up'"}],
  "mark": {"type": "point", "shape": "M-0.4,1L-0.4,0L-1,0L0,-1L1,0L0.4,0L0.4,1Z", "size": 80, "filled": true, "opacity": 1},
  "encoding": {"x": {"field": "bar", "type": "quantitative"}, "y": {"field": "price", "type": "quantitative"},
   "fill": {"field": "tone", "type": "nominal", "scale": {"domain": ["blue", "red", "green"], "range": ["#7B7BFF", "#FF7F7F", "#66CC66"]}, "legend": null}}},
 {"data": {"name": "arrows"}, "transform": [{"filter": "datum.dir == 'down'"}],
  "mark": {"type": "point", "shape": "M-0.4,-1L-0.4,0L-1,0L0,1L1,0L0.4,0L0.4,-1Z", "size": 80, "filled": true, "opacity": 1},
  "encoding": {"x": {"field": "bar", "type": "quantitative"}, "y": {"field": "price", "type": "quantitative"},
   "fill": {"field": "tone", "type": "nominal", "scale": {"domain": ["blue", "red", "green"], "range": ["#7B7BFF", "#FF7F7F", "#66CC66"]}, "legend": null}}},
 {"data": {"name": "signaltext"}, "mark": {"type": "text", "fontSize": 10, "color": "#333333", "baseline": "middle"},
  "encoding": {"x": {"field": "bar", "type": "quantitative"}, "y": {"field": "price", "type": "quantitative"}, "text": {"field": "text"}}},
 {"data": {"name": "header"}, "mark": {"type": "text", "fontSize": 10.5, "align": "left", "baseline": "alphabetic"},
  "encoding": {"x": {"field": "at", "type": "quantitative"}, "y": {"datum": 1373.43, "type": "quantitative"}, "text": {"field": "text"},
   "color": {"field": "kind", "type": "nominal", "scale": {"domain": ["label", "value", "price"], "range": ["#00D000", "#000080", "#FF0000"]}, "legend": null}}},
 {"data": {"values": [{"price": 1341.75}]}, "mark": {"type": "rect", "fill": "#FFFFC4", "stroke": "#000000", "strokeWidth": 1},
  "encoding": {"x": {"datum": 173.9, "type": "quantitative"}, "x2": {"datum": 181.2}, "y": {"datum": 1341.2, "type": "quantitative"}, "y2": {"datum": 1342.3}}},
 {"data": {"values": [{"price": 1341.75}]}, "mark": {"type": "text", "align": "left", "baseline": "middle", "fontSize": 12, "color": "#000080"},
  "encoding": {"x": {"datum": 174.25, "type": "quantitative"}, "y": {"field": "price", "type": "quantitative"}, "text": {"field": "price", "format": ",.2f"}}},
 {"data": {"values": [{"price": 1341.75}]}, "mark": {"type": "text", "align": "left", "baseline": "middle", "fontSize": 9, "color": "#000000", "text": "«"},
  "encoding": {"x": {"datum": 173.25, "type": "quantitative"}, "y": {"field": "price", "type": "quantitative"}}},
 {"data": {"values": [{}]}, "mark": {"type": "rect", "fill": "#C6D4EE", "stroke": "#1A4040", "strokeWidth": 1},
  "encoding": {"x": {"datum": 2.1, "type": "quantitative"}, "x2": {"datum": 9.74}, "y": {"datum": 1330.93, "type": "quantitative"}, "y2": {"datum": 1331.93}}},
 {"data": {"values": [{"text": "No Orders"}]}, "mark": {"type": "text", "align": "left", "baseline": "middle", "fontSize": 10, "color": "#0E3030"},
  "encoding": {"x": {"datum": 2.55, "type": "quantitative"}, "y": {"datum": 1331.43, "type": "quantitative"}, "text": {"field": "text"}}},
 {"data": {"values": [{"text": "www.visualchart.com"}]}, "mark": {"type": "text", "align": "left", "baseline": "middle", "fontSize": 15, "fontWeight": "bold", "color": "#A2A8D2"},
  "encoding": {"x": {"datum": 11.48, "type": "quantitative"}, "y": {"datum": 1331.6, "type": "quantitative"}, "text": {"field": "text"}}}
]
}
